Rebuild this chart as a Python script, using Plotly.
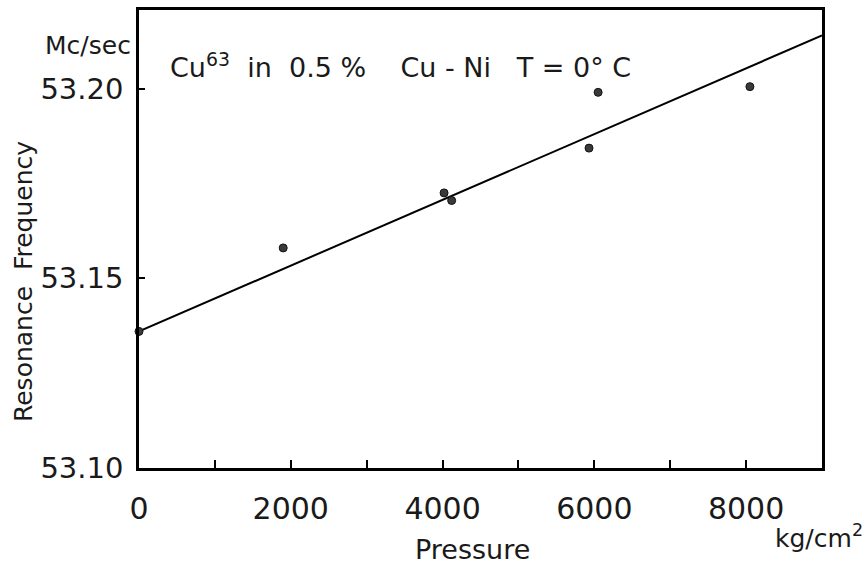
import plotly.graph_objects as go

# Measured points (pressure kg/cm^2, resonance frequency Mc/sec)
pressure = [0, 1900, 4020, 4120, 5930, 6050, 8050]
frequency = [53.136, 53.158, 53.1725, 53.1705, 53.1843, 53.199, 53.2005]

# Fitted straight line (read at its ends)
fit_pressure = [0, 9000]
fit_frequency = [53.136, 53.214]

x_tickvals = [0, 1000, 2000, 3000, 4000, 5000, 6000, 7000, 8000, 9000]
x_ticktext = ["0", "", "2000", "", "4000", "", "6000", "", "8000", ""]
y_tickvals = [53.10, 53.15, 53.20]
y_ticktext = ["53.10", "53.15", "53.20"]

FONT = "DejaVu Sans"

fig = go.Figure()
fig.add_trace(go.Scatter(x=fit_pressure, y=fit_frequency, mode="lines",
                         line=dict(color="black", width=2), showlegend=False,
                         cliponaxis=False))
fig.add_trace(go.Scatter(x=pressure, y=frequency, mode="markers",
                         marker=dict(size=8, color="#3a3a3a",
                                     line=dict(color="#111", width=1)),
                         showlegend=False, cliponaxis=False))

fig.update_layout(
    width=868, height=568,
    margin=dict(l=139, r=46, t=7, b=100),
    paper_bgcolor="white", plot_bgcolor="white",
    font=dict(family=FONT, color="#1a1a1a"),
    xaxis=dict(range=[0, 9000], tickvals=x_tickvals, ticktext=x_ticktext,
               ticks="inside", ticklen=8, tickwidth=1.5, tickcolor="black",
               showline=True, linecolor="black", linewidth=2.5, mirror=True,
               showgrid=False, zeroline=False,
               tickfont=dict(size=30, family=FONT, color="#1a1a1a"),
               ticklabelstandoff=12),
    yaxis=dict(range=[53.10, 53.2207], tickvals=y_tickvals, ticktext=y_ticktext,
               ticks="inside", ticklen=6, tickwidth=1.5, tickcolor="black",
               showline=True, linecolor="black", linewidth=2.5, mirror=True,
               showgrid=False, zeroline=False,
               tickfont=dict(size=29, family=FONT, color="#1a1a1a"),
               ticklabelstandoff=7),
)

ann = [
    dict(text="Mc/sec", x=-0.0747, y=0.922, xanchor="center", yanchor="middle",
         font=dict(size=25)),
    dict(text="Cu<sup>63</sup>  in  0.5 %    Cu - Ni   T = 0° C", x=0.0425, y=0.8785,
         xanchor="left", yanchor="middle", font=dict(size=27)),
    dict(text="kg/cm<sup>2</sup>", x=1.063, y=-0.150, xanchor="right",
         yanchor="middle", font=dict(size=25)),
    dict(text="Pressure", x=0.488, y=-0.178, xanchor="center", yanchor="middle",
         font=dict(size=27)),
    dict(text="Resonance  Frequency", x=-0.17, y=0.408, xanchor="center",
         yanchor="middle", textangle=-90, font=dict(size=25)),
]
for a in ann:
    a.update(xref="paper", yref="paper", showarrow=False)
    fig.add_annotation(**a)

fig.write_html("out.html")
